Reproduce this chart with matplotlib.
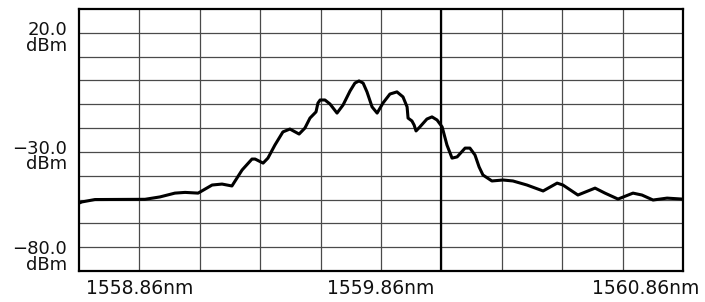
import numpy as np
import matplotlib
matplotlib.use("Agg")
import matplotlib.pyplot as plt
from matplotlib.transforms import ScaledTranslation

# spectrum trace (nm, dBm)
wavelength = [1558.610, 1558.622, 1558.676, 1558.883, 1558.945, 1559.007, 1559.049, 1559.103,
              1559.161, 1559.202, 1559.243, 1559.285, 1559.326, 1559.339, 1559.372, 1559.392,
              1559.421, 1559.454, 1559.483, 1559.521, 1559.545, 1559.566, 1559.591, 1559.599,
              1559.608, 1559.628, 1559.649, 1559.678, 1559.703, 1559.732, 1559.752, 1559.769,
              1559.786, 1559.802, 1559.823, 1559.844, 1559.868, 1559.897, 1559.926, 1559.951,
              1559.968, 1559.972, 1559.988, 1559.997, 1560.005, 1560.021, 1560.050, 1560.071,
              1560.092, 1560.113, 1560.133, 1560.154, 1560.175, 1560.208, 1560.228, 1560.249,
              1560.266, 1560.282, 1560.319, 1560.365, 1560.406, 1560.464, 1560.531, 1560.589,
              1560.613, 1560.675, 1560.746, 1560.787, 1560.841, 1560.903, 1560.940, 1560.986,
              1561.044, 1561.106]
power = [-51.5, -51.0, -50.0, -49.9, -48.9, -47.3, -47.0, -47.3,
         -43.9, -43.5, -44.3, -37.6, -33.0, -33.0, -34.7, -32.6,
         -27.1, -21.6, -20.4, -22.5, -20.0, -15.8, -13.2, -9.5,
         -8.2, -8.2, -9.9, -13.7, -10.3, -4.4, -1.1, -0.2,
         -1.1, -4.8, -11.1, -13.7, -9.5, -5.7, -4.8, -6.9,
         -11.1, -15.8, -17.0, -18.7, -21.2, -19.5, -16.2, -15.3,
         -16.6, -19.5, -27.1, -32.6, -32.1, -28.4, -28.4, -31.3,
         -36.3, -39.7, -42.2, -41.8, -42.2, -43.9, -46.4, -43.1,
         -43.9, -48.1, -45.2, -47.3, -49.8, -47.3, -48.1, -50.2,
         -49.4, -49.8]

x_min, x_max = 1558.61, 1561.11
y_min, y_max = -80, 30
x_labels = [1558.86, 1559.86, 1560.86]
y_labels = [20, -30, -80]
marker_x = 1560.11

plt.rcParams['font.family'] = ['DejaVu Sans']

fig = plt.figure(figsize=(7.05, 3.02), dpi=100)
ax = fig.add_axes([79/705, 31/302, 604/705, 262/302])

ax.set_xlim(x_min, x_max)
ax.set_ylim(y_min, y_max)

# grid: 10 x 11 divisions
for gx in x_min + 0.25*np.arange(1, 10):
    ax.axvline(gx, color='#4a4a4a', lw=0.9, zorder=1)
for gy in np.arange(-70, 30, 10):
    ax.axhline(gy, color='#4a4a4a', lw=0.9, zorder=1)
ax.axvline(marker_x, color='black', lw=1.6, zorder=1.5)

ax.plot(wavelength, power, color='black', lw=2.2, solid_joinstyle='round',
        solid_capstyle='round', zorder=3)

ax.set_xticks(x_labels)
ax.set_xticklabels([f"{v:.2f}nm" for v in x_labels], fontsize=13.5, color='#111111')
ax.set_yticks([])
ax.tick_params(which='both', length=0)
ax.tick_params(axis='x', pad=6)
# last label is pushed right on the instrument screen
last = ax.get_xticklabels()[-1]
last.set_transform(last.get_transform() + ScaledTranslation(0.23, 0, fig.dpi_scale_trans))

offsets = {20: -2.2, -30: -1.8, -80: 5.9}
for v in y_labels:
    ax.text(-0.02, v + offsets[v], f"{v:.1f}\ndBm".replace('-', '\u2212'),
            transform=ax.get_yaxis_transform(), ha='right', va='center',
            multialignment='right', fontsize=13, linespacing=0.8, color='#111111')

for s in ax.spines.values():
    s.set_linewidth(1.6)
    s.set_color('black')

fig.savefig('out.png', dpi=100)
